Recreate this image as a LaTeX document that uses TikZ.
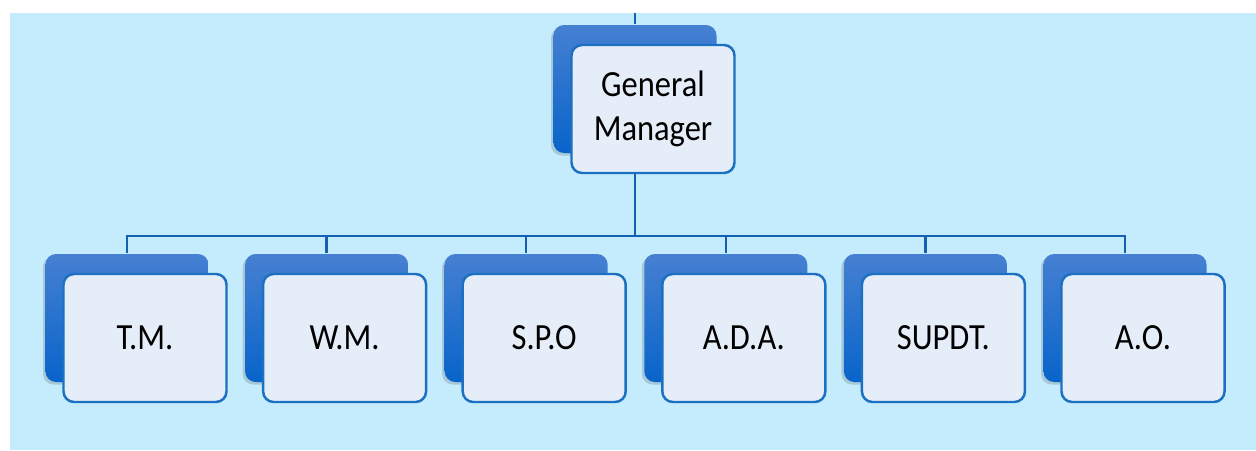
\documentclass[tikz,border=0pt]{standalone}
\usepackage{fontspec}
\setmainfont{Carlito}[FakeStretch=0.88]
\definecolor{bgblue}{RGB}{197,236,253}
\definecolor{linkblue}{RGB}{22,96,178}
\definecolor{cardedge}{RGB}{28,112,194}
\definecolor{cardfill}{RGB}{229,237,248}
\definecolor{backtop}{RGB}{70,128,210}
\definecolor{backbot}{RGB}{8,100,202}

\begin{document}
\begin{tikzpicture}[
        link/.style={draw=linkblue, line width=1.3pt},
        card/.style={draw=cardedge, line width=1.4pt, fill=cardfill, rounded corners=6pt,
            minimum width=3.26cm, minimum height=2.56cm, align=center,
            font=\fontsize{21}{25}\selectfont,
            preaction={fill=black, fill opacity=0.15, draw=none,
                transform canvas={shift={(-0.41cm,0.35cm)}}},
            preaction={top color=backtop, bottom color=backbot, draw=none,
                transform canvas={shift={(-0.36cm,0.40cm)}}}}
    ]
        \fill[bgblue] (0.2,-0.26) rectangle (25.12,-9);
        \useasboundingbox (0,0) rectangle (25.12,-9);
        \node[card] (gm) at (13.06,-2.18) {General\\Manager}
            [level distance = 4.58cm, sibling distance = 3.992cm,
             edge from parent/.style={link},
             edge from parent path={([xshift=-0.36cm]\tikzparentnode.south) -- ++(0,-1.24)
                -| ([xshift=-0.36cm,yshift=0.4cm]\tikzchildnode.north)}]
            child[xshift=-0.18cm]{node[card] (tm) {T.M.}}
            child[xshift=-0.18cm]{node[card] (wm) {W.M.}}
            child[xshift=-0.18cm]{node[card] (spo) {S.P.O}}
            child[xshift=-0.18cm]{node[card] (ada) {A.D.A.}}
            child[xshift=-0.18cm]{node[card] (supdt) {SUPDT.}}
            child[xshift=-0.18cm]{node[card] (ao) {A.O.}};
        \coordinate (top) at ([xshift=-0.36cm]gm.north |- 0,-0.26);
        \draw[link] ([xshift=-0.36cm,yshift=0.4cm]gm.north) -- (top);
\end{tikzpicture}
\end{document}
